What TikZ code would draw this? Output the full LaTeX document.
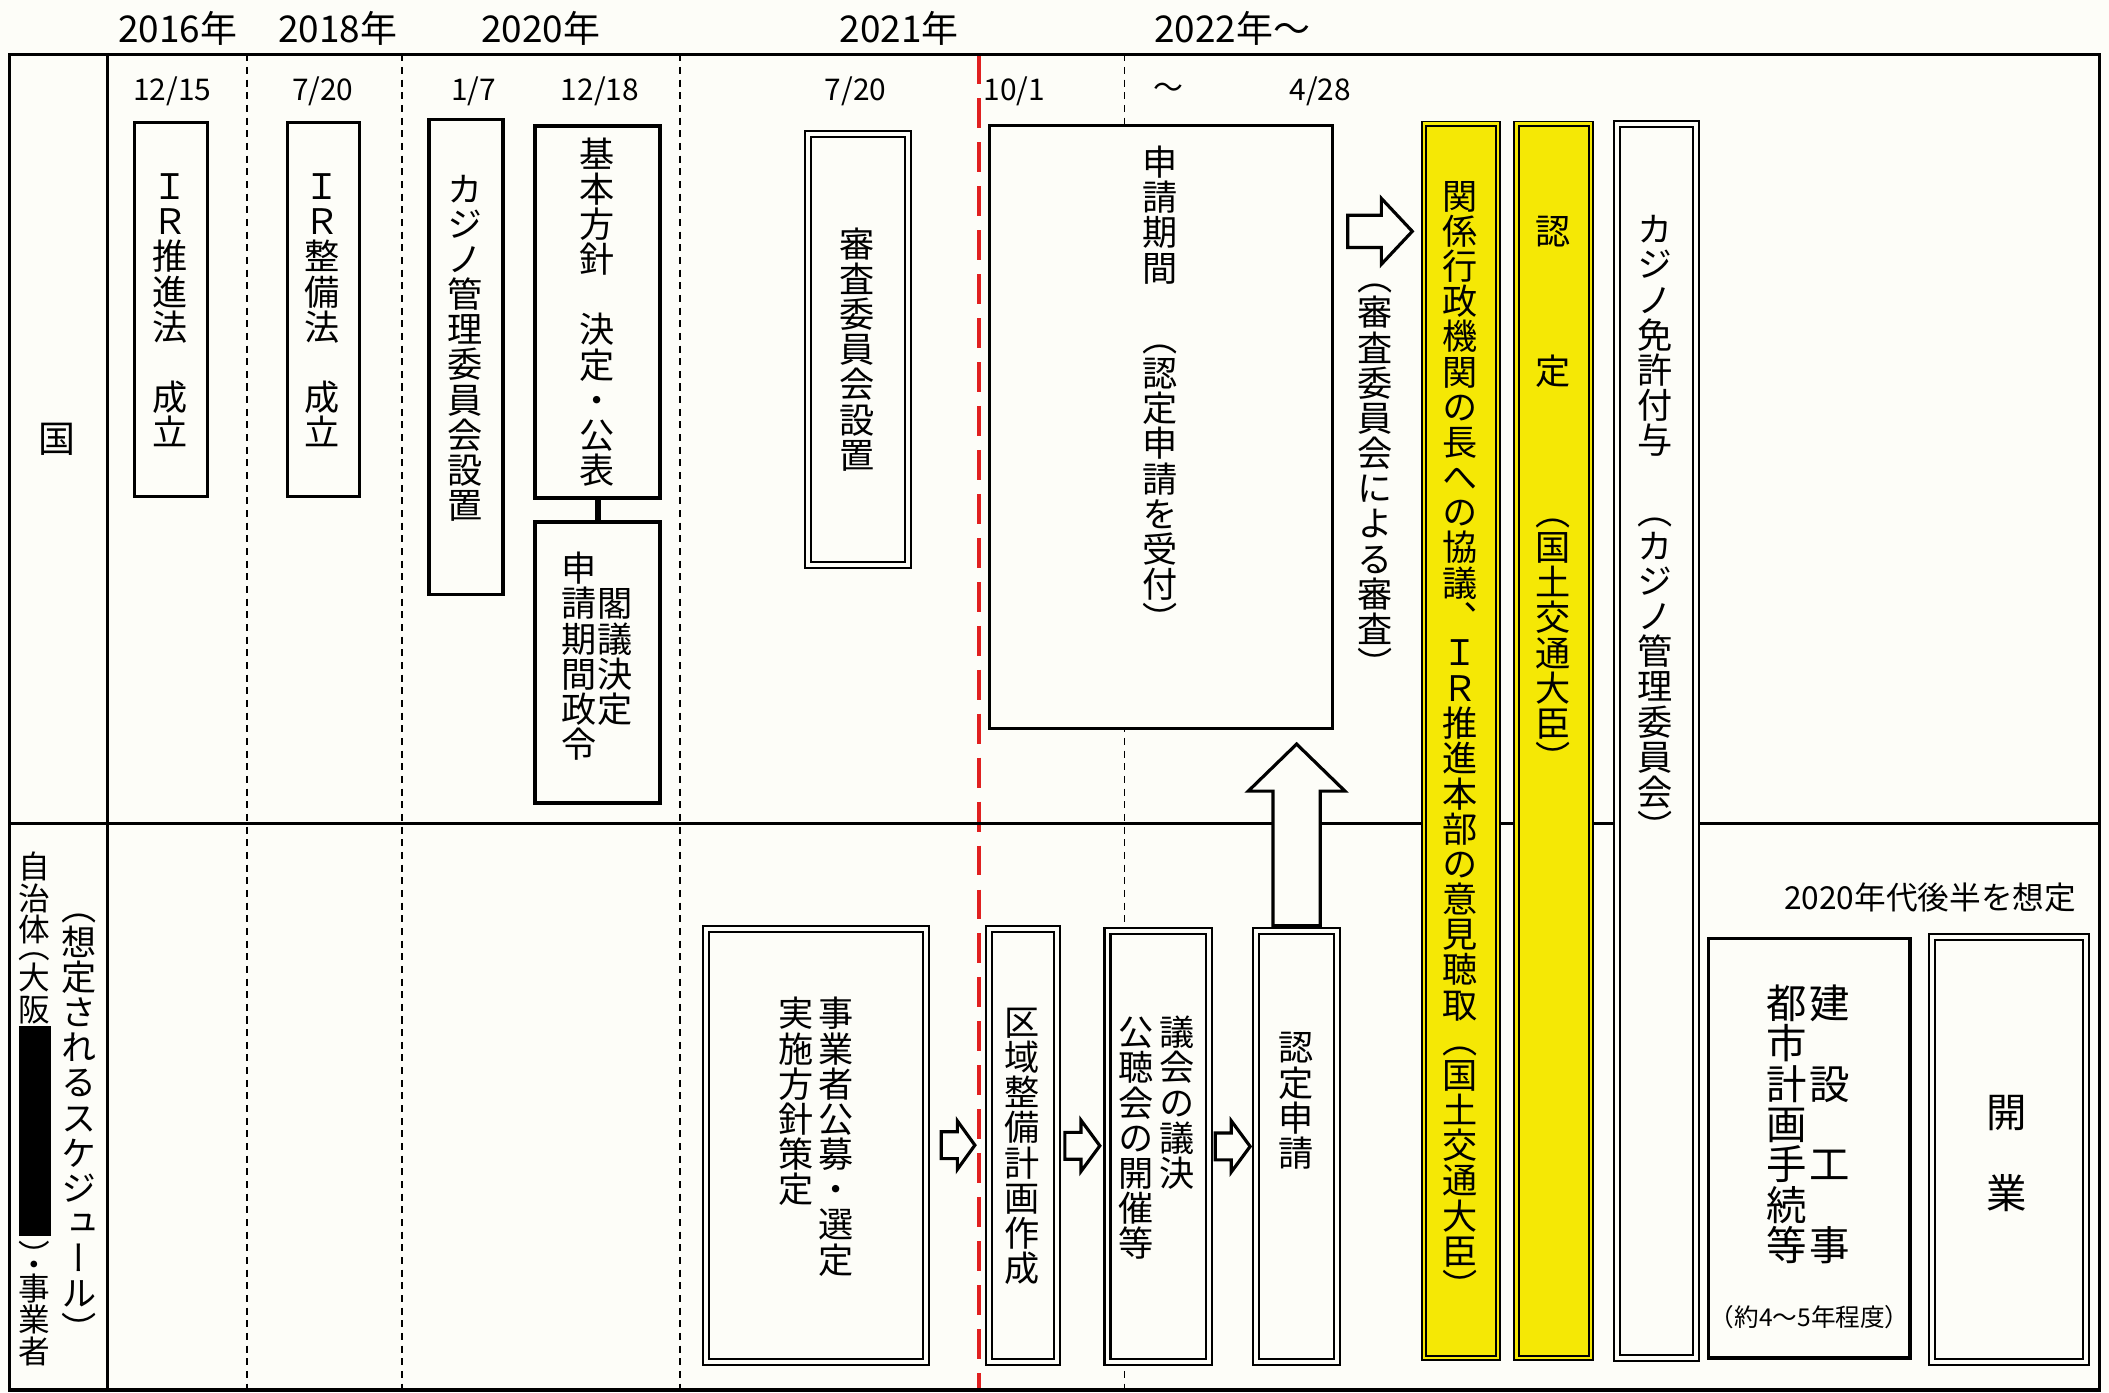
\documentclass[tikz,border=0pt]{standalone}
\usepackage{fontspec}
\setmainfont{Noto Sans CJK JP}
\newfontfamily\tatefont[RawFeature={vertical;+vert}]{Noto Sans CJK JP}
\newfontfamily\tatepfont[RawFeature={vertical;+vert;+vpal}]{Noto Sans CJK JP}
\usetikzlibrary{calc, positioning, fit}
\lineskiplimit=-100pt

\definecolor{gelb}{HTML}{F5E805}
\definecolor{papier}{HTML}{FDFDF8}
\definecolor{rotlinie}{HTML}{E02020}

\tikzset{
  rahmen/.style={line width=1pt},
  strich/.style={line width=0.5pt, dash pattern=on 2pt off 1.6pt},
  rotstrich/.style={rotlinie, line width=1pt, dash pattern=on 8.5pt off 4pt},
  kasten/.style={draw, line width=0.9pt, fill=papier, inner sep=0pt},
  doppel/.style={kasten, line width=0.6pt, double=papier, double distance=1.1pt},
  gelbkasten/.style={doppel, line width=0.55pt, fill=gelb, double=gelb, double distance=0.7pt},
  tate/.style={rotate=-90, yshift=3.6pt, inner sep=0pt, font=\fontsize{10}{11}\tatefont},
  tateeng/.style={tate, yshift=-3.1pt, text height=0.5em, text depth=0.5em},
  jahr/.style={font=\fontsize{10.5}{12}\selectfont},
  datum/.style={font=\fontsize{8.5}{10}\selectfont},
  hohl/.style={draw, line width=0.9pt, fill=papier, line join=miter}
}

% Hohlpfeil: Ansatz, Drehung, Schaftlaenge, Spitzenlaenge, halbe Schaftbreite, halbe Spitzenbreite
\newcommand\hohlpfeil[6]{%
  \path[hohl, shift={#1}, rotate=#2] (0,-#5) -- (#3,-#5) -- (#3,-#6) -- ({#3+#4},0)
    -- (#3,#6) -- (#3,#5) -- (0,#5) -- cycle;}

\begin{document}
\begin{tikzpicture}[x=0.01345cm, y=-0.01345cm]
    %Hintergrund
    \fill[papier] (0,0) rectangle (1568,1035);
    \useasboundingbox (0,0) rectangle (1568,1035);

    %Zeitachse
    \foreach \x in {183.5, 299, 505.5, 836} \draw[strich] (\x,40.4) -- (\x,1034);
    \draw[rotstrich] (728,40.4) -- (728,1034);

    %Rahmen
    \draw[rahmen] (7,40.4) rectangle (1561,1033.5);
    \draw[rahmen] (80,40.4) -- (80,1033.5);
    \draw[rahmen] (7,612.4) -- (1561,612.4);

    %Jahre und Daten
    \foreach \x/\j [count=\i] in {132/2016年, 251/2018年, 402/2020年, 668.6/2021年, 916/2022年～}
        \node[jahr] (jahr\i) at (\x,21) {\j};
    \foreach \x/\d [count=\i] in {128/{12/15}, 240/{7/20}, 352/{1/7}, 446/{12/18}, 636/{7/20}, 754/{10/1}, 868.6/{～}, 981.6/{4/28}}
        \node[datum] (datum\i) at (\x,67.7) {\d};

    %Zeilenkoepfe
    \node[font=\fontsize{10.5}{12}\selectfont] (kuni) at (42.7,326.6) {国};
    \node[tateeng] (sotei) at (57.5,831) {（想定されるスケジュール）};
    \node[tateeng, yshift=-0.4pt, anchor=west, font=\fontsize{9}{10}\tatepfont] (jichitai) at (25,632) {自治体（大阪};
    \node[tateeng, yshift=-0.4pt, anchor=east, font=\fontsize{9}{10}\tatepfont] (jigyosha) at (25,1017) {）・事業者};
    \fill[black] (14,763) rectangle (38,919);

    %Kaesten Staat
    \node[kasten, fit={(100,91) (154.5,369)}] (irsuishin) {};
    \node[kasten, fit={(213.5,91) (267,369)}] (irseibi) {};
    \node[kasten, fit={(319,89) (374,442)}] (casino) {};
    \node[kasten, line width=1.1pt, fit={(398,93.5) (491,370.5)}] (kihon) {};
    \node[kasten, line width=1.1pt, fit={(398,388) (491,597)}] (kakugi) {};
    \draw[line width=1.5pt] (kihon.south) -- (kakugi.north);
    \node[doppel, fit={(601,99.6) (675,420)}] (shinsaset) {};
    \node[kasten, fit={(735.5,93.5) (990.8,541.7)}] (kikan) {};
    \node[gelbkasten, fit={(1058.8,92) (1113.8,1009.7)}] (kyogi) {};
    \node[gelbkasten, fit={(1127.5,92) (1183,1009.7)}] (nintei) {};
    \node[doppel, fit={(1202,92) (1260.7,1009.7)}] (menkyo) {};

    \node[tate] (t-irsuishin) at (irsuishin) {ＩＲ推進法　成立};
    \node[tate] (t-irseibi) at (irseibi) {ＩＲ整備法　成立};
    \node[tate] (t-casino) at (346.5,258) {カジノ管理委員会設置};
    \node[tate] (t-kihon) at (kihon) {基本方針　決定・公表};
    \node[tate, anchor=west, align=left, font=\fontsize{10}{10.3}\tatefont] (t-kakugi) at (444.5,409) {　閣議決定\\申請期間政令};
    \node[tate] (t-shinsaset) at (shinsaset) {審査委員会設置};
    \node[tate, anchor=west] (t-kikan) at (863,107) {申請期間　（認定申請を受付）};
    \node[tate] (t-shinsa) at (1023,350) {（審査委員会による審査）};
    \node[tate] (t-kyogi) at (kyogi) {関係行政機関の長への協議、ＩＲ推進本部の意見聴取（国土交通大臣）};
    \node[tate, anchor=west] (t-nintei) at (1155,158) {認　　　定　　　（国土交通大臣）};
    \node[tate, anchor=west] (t-menkyo) at (1231,157) {カジノ免許付与　（カジノ管理委員会）};

    %Kaesten Kommune
    \node[doppel, fit={(525,690.4) (688.6,1012.4)}] (koubo) {};
    \node[doppel, fit={(735,690.4) (786,1012.4)}] (kuiki) {};
    \node[doppel, fit={(823.4,692) (898.9,1012.7)}] (gikai) {};
    \node[doppel, fit={(934,692) (994,1012.7)}] (shinsei) {};
    \node[kasten, fit={(1270,697.5) (1420,1009.7)}] (kensetsu) {};
    \node[doppel, fit={(1436.6,696.6) (1551,1012.7)}] (kaigyo) {};

    \node[tate, anchor=west, align=left, font=\fontsize{10}{11.5}\tatefont] (t-koubo) at (607,740) {事業者公募・選定\\実施方針策定};
    \node[tate] (t-kuiki) at (kuiki) {区域整備計画作成};
    \node[tate, anchor=west, align=left, font=\fontsize{10}{11.8}\tatefont] (t-gikai) at (860.5,754) {議会の議決\\公聴会の開催等};
    \node[tate] (t-shinsei) at (964,818) {認定申請};
    \node[tate, yshift=0.5pt, anchor=west, align=left, font=\fontsize{11.5}{12}\tatefont] (t-kensetsu) at (1345,730) {建　設　工　事\\都市計画手続等};
    \node[tate, yshift=0.5pt, font=\fontsize{11.5}{12}\tatefont] (t-kaigyo) at (1493,857) {開　業};
    \node[font=\fontsize{7}{8}\selectfont] (dauer) at (1345.5,979) {（約4～5年程度）};
    \node[font=\fontsize{9}{10}\selectfont] (hinweis) at (1435,667) {2020年代後半を想定};

    %Pfeile
    \hohlpfeil{(1002,172)}{0}{25}{23}{12}{24.5}
    \hohlpfeil{($(koubo.east)!.5!(kuiki.west)+(-12,0)$)}{0}{12}{13}{10}{18}
    \hohlpfeil{($(kuiki.east)!.5!(gikai.west)+(-13,0)$)}{0}{12}{14}{10}{19}
    \hohlpfeil{($(gikai.east)!.5!(shinsei.west)+(-13,0)$)}{0}{12}{14}{10}{19}
    \hohlpfeil{($(shinsei.north)+(0,-3)$)}{90}{100}{35}{17.6}{36}
\end{tikzpicture}
\end{document}
